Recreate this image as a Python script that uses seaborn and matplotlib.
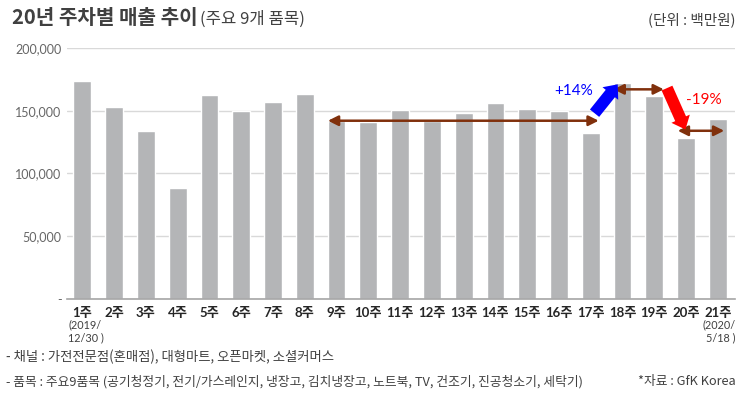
import matplotlib
matplotlib.use("Agg")
import matplotlib.pyplot as plt
import seaborn as sns
import pandas as pd
from matplotlib.patches import FancyArrowPatch
from matplotlib.ticker import FuncFormatter

weeks = [f"{i}주" for i in range(1, 22)]
sales = [174000, 153000, 134000, 88500, 162500, 149800, 157000, 163300,
         141500, 141000, 150600, 141500, 148400, 156000, 151000, 149800,
         132300, 171900, 161800, 128000, 143400]
yticks = [0, 50000, 100000, 150000, 200000]

sns.set_theme(style="white")
plt.rcParams['font.family'] = ['Lato', 'Noto Sans CJK KR', 'DejaVu Sans']

df = pd.DataFrame({"week": weeks, "sales": sales})

fig = plt.figure(figsize=(7.45, 3.96), dpi=100)
ax = fig.add_axes([0.09, 0.245, 0.897, 0.634])
sns.barplot(data=df, x="week", y="sales", color="#B4B5B7", saturation=1,
            width=0.56, ax=ax, zorder=2)

ax.set_ylim(0, 200000)
ax.set_xlim(-0.48, 20.55)
ax.set_yticks(yticks)
ax.yaxis.set_major_formatter(FuncFormatter(lambda v, p: "-" if v == 0 else f"{int(v):,}"))
ax.grid(axis="y", color="#D9D9D9", linewidth=1, zorder=0)
ax.set_axisbelow(True)
for s in ["top", "right", "left"]:
    ax.spines[s].set_visible(False)
ax.spines["bottom"].set_color("#A6A6A6")
ax.spines["bottom"].set_linewidth(1.2)
ax.tick_params(axis="y", labelsize=9, colors="#666666", length=0, pad=4)
ax.tick_params(axis="x", labelsize=9.5, length=0, pad=6)
for lab in ax.get_xticklabels():
    lab.set_fontweight("bold")
    lab.set_color("#262626")
ax.set_xlabel("")
ax.set_ylabel("")

# date notes
ax.text(-0.45, -0.08, "(2019/\n12/30 )", transform=ax.get_xaxis_transform(),
        ha="left", va="top", fontsize=7.8, color="#404040", linespacing=1.2)
ax.text(20.55, -0.08, "(2020/\n5/18 )", transform=ax.get_xaxis_transform(),
        ha="right", va="top", fontsize=7.8, color="#404040", linespacing=1.2)

# double arrows
brown = "#80300C"
for (x0, x1, yv) in [(7.73, 16.25, 142000), (16.72, 18.3, 167000), (18.74, 20.2, 134000)]:
    ax.add_patch(FancyArrowPatch((x0, yv), (x1, yv), arrowstyle="<|-|>,head_length=4,head_width=2",
                                 color=brown, lw=1.8, mutation_scale=1.5, zorder=5,
                                 shrinkA=0, shrinkB=0))

# block arrows
ax.add_patch(FancyArrowPatch((16.12, 148000), (16.85, 171000),
                             arrowstyle="simple,head_length=0.85,head_width=1.45,tail_width=0.85",
                             color="#0000FF", mutation_scale=10, zorder=6, lw=0,
                             shrinkA=0, shrinkB=0))
ax.add_patch(FancyArrowPatch((18.40, 168000), (18.98, 135000),
                             arrowstyle="simple,head_length=0.85,head_width=1.45,tail_width=0.85",
                             color="#FF0000", mutation_scale=10, zorder=6, lw=0,
                             shrinkA=0, shrinkB=0))
ax.text(15.45, 165500, "+14%", ha="center", va="center", fontsize=11, color="#0000FF")
ax.text(19.55, 158500, "-19%", ha="center", va="center", fontsize=11, color="#FF0000")

# titles
cjk = ['Noto Sans CJK KR', 'DejaVu Sans']
fig.text(0.016, 0.955, "20년 주차별 매출 추이", ha="left", va="center", fontsize=14.5,
         fontweight="bold", color="#404040", family=cjk)
fig.text(0.268, 0.951, "(주요 9개 품목)", ha="left", va="center", fontsize=12,
         color="#404040", family=cjk)
fig.text(0.987, 0.951, "(단위 : 백만원)", ha="right", va="center", fontsize=10.5,
         color="#404040", family=cjk)

# footer
fig.text(0.008, 0.098, "- 채널 : 가전전문점(혼매점), 대형마트, 오픈마켓, 소셜커머스", ha="left", va="center",
         fontsize=9.6, color="#404040", family=cjk)
fig.text(0.008, 0.037, "- 품목 : 주요9품목 (공기청정기, 전기/가스레인지, 냉장고, 김치냉장고, 노트북, TV, 건조기, 진공청소기, 세탁기)",
         ha="left", va="center", fontsize=9.2, color="#404040", family=cjk)
fig.text(0.987, 0.037, "*자료 : GfK Korea", ha="right", va="center",
         fontsize=9.2, color="#404040", family=cjk)

fig.savefig("out.png", dpi=100)
